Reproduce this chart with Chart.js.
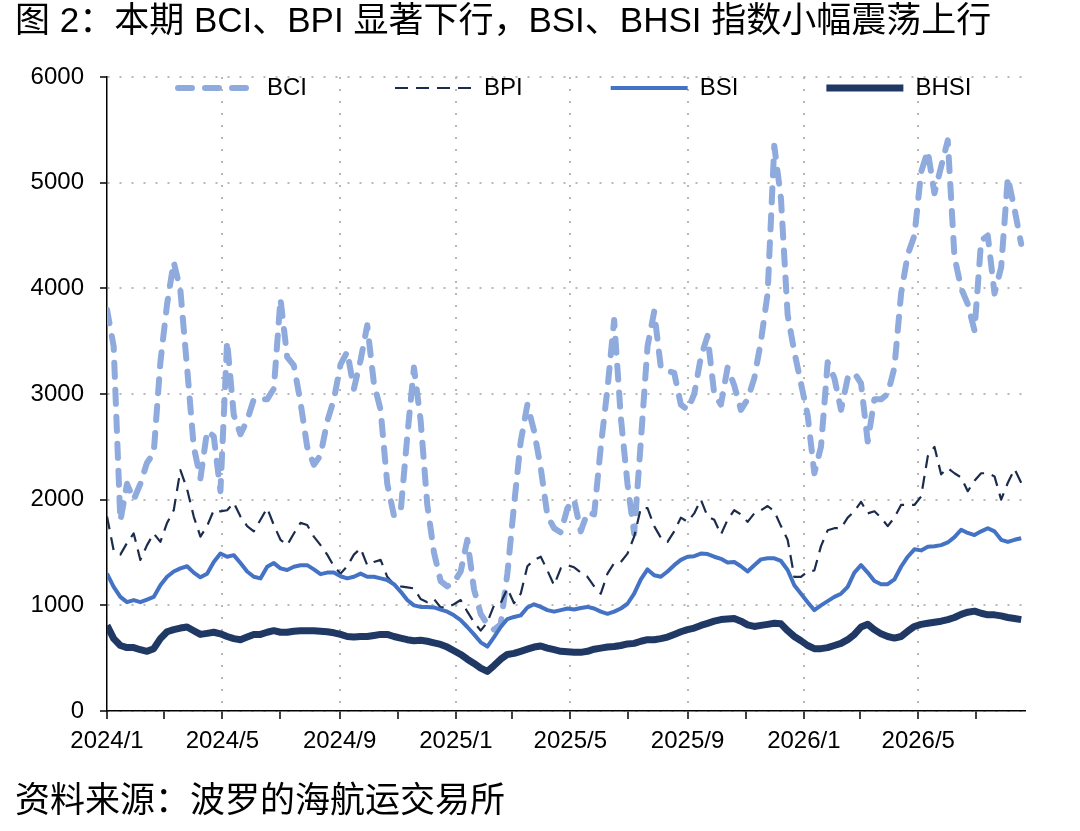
<!DOCTYPE html>
<html lang="zh-CN">
<head>
<meta charset="utf-8">
<title>BCI / BPI / BSI / BHSI</title>
<script src="https://cdn.jsdelivr.net/npm/chart.js@4.4.1/dist/chart.umd.min.js"></script>
<style>
  html, body { margin: 0; padding: 0; background: #fff; }
  #wrap { position: relative; width: 1080px; height: 831px; overflow: hidden; }
  #chart { position: absolute; left: 0; top: 0; }
  .caption {
    position: absolute; left: 15px; white-space: nowrap;
    font-family: "Liberation Sans", "Noto Sans CJK SC", sans-serif;
    font-size: 35px; line-height: 40px; color: #000;
  }
  #title { top: 0; }
  #source { top: 780px; }
</style>
</head>
<body>
<div id="wrap">
  <canvas id="chart" width="1080" height="831"></canvas>
  <div class="caption" id="title">图 2：本期 BCI、BPI 显著下行，BSI、BHSI 指数小幅震荡上行</div>
  <div class="caption" id="source">资料来源：波罗的海航运交易所</div>
</div>
<script>
// weekly readings from 2024/1 onwards
const weekStep = 7; // days between points
const seriesNames = ['BCI', 'BPI', 'BSI', 'BHSI'];
const tickLabels = ['2024/1', '2024/3', '2024/5', '2024/7', '2024/9', '2024/11',
                    '2025/1', '2025/3', '2025/5', '2025/7', '2025/9', '2025/11',
                    '2026/1', '2026/3', '2026/5', '2026/7'];

const bci = [
  3800, 3450, 1800, 2150, 2000, 2150, 2350, 2440, 3300, 3850,
  4250, 3980, 3250, 2500, 2200, 2650, 2600, 2080, 3500, 2800,
  2620, 2750, 2950, 2950, 2950, 3050, 3900, 3350, 3270, 2920,
  2500, 2330, 2420, 2740, 2950, 3280, 3400, 3050, 3320, 3650,
  3100, 2850, 2150, 1850, 1880, 2600, 3250, 2750, 1950, 1500,
  1230, 1180, 1220, 1320, 1620, 1150, 920, 820, 770, 820,
  1300, 1950, 2550, 2900, 2650, 2300, 1850, 1730, 1690, 1920,
  2000, 1700, 1880, 1860, 2500, 3050, 3700, 2780, 2150, 1680,
  2550, 3450, 3780, 3250, 3220, 3200, 2900, 2850, 3000, 3350,
  3550, 3000, 2900, 3250, 3080, 2850, 2950, 3150, 3500, 3950,
  5350, 4850, 3750, 3400, 3100, 2800, 2250, 2500, 3300, 3150,
  2850, 3150, 3200, 3100, 2550, 2950, 2950, 3000, 3250, 3950,
  4320, 4500, 5100, 5300, 4900, 5150, 5400, 4300, 4000, 3850,
  3600, 4450, 4500, 3950, 4200, 5050, 4750, 4420
];
const bpi = [
  1840, 1520, 1480, 1590, 1680, 1430, 1570, 1680, 1600, 1780,
  1900, 2280, 2100, 1840, 1650, 1750, 1900, 1890, 1900, 1970,
  1840, 1750, 1700, 1810, 1920, 1760, 1620, 1570, 1680, 1780,
  1760, 1650, 1570, 1480, 1370, 1300, 1370, 1480, 1540, 1380,
  1410, 1430, 1270, 1200, 1180, 1170, 1160, 1060, 1030, 1060,
  980, 980, 1010, 1050, 940, 840, 760, 840, 1000, 1020,
  1160, 1020, 1110, 1370, 1430, 1460, 1330, 1190, 1350, 1380,
  1360, 1310, 1270, 1180, 1110, 1300, 1400, 1410, 1490, 1650,
  1920, 1920, 1750, 1640, 1600, 1700, 1830, 1790, 1870, 2000,
  1840, 1810, 1670, 1810, 1900, 1860, 1790, 1870, 1900, 1940,
  1890, 1750, 1620, 1270, 1270, 1320, 1330, 1560, 1710, 1730,
  1730, 1830, 1890, 1980, 1870, 1890, 1830, 1750, 1830, 1950,
  1950, 1950, 2030, 2410, 2500, 2240, 2300, 2250, 2210, 2080,
  2180, 2250, 2250, 2220, 2000, 2160, 2290, 2160
];
const bsi = [
  1300, 1175, 1080, 1030, 1050, 1030, 1055, 1080, 1190, 1270,
  1320, 1350, 1370, 1310, 1265, 1300, 1410, 1490, 1460, 1475,
  1400, 1320, 1270, 1255, 1365, 1400, 1350, 1335, 1365, 1380,
  1380, 1340, 1295, 1310, 1310, 1275, 1255, 1270, 1300, 1270,
  1270, 1255, 1240, 1200, 1130, 1050, 1000, 985, 985, 980,
  960, 940, 905, 860, 795, 725, 650, 610, 700, 795,
  870, 890, 905, 980, 1010, 985, 955, 940, 955, 970,
  960, 975, 985, 970, 940, 920, 940, 970, 1015, 1110,
  1245, 1340, 1285, 1270, 1320, 1380, 1430, 1460, 1465, 1490,
  1485, 1460, 1440, 1405, 1410, 1370, 1320, 1380, 1435, 1445,
  1445, 1420, 1335, 1190, 1110, 1030, 955, 1000, 1040, 1080,
  1110, 1175, 1310, 1380, 1310, 1230, 1200, 1200, 1245, 1365,
  1460, 1530, 1520, 1555, 1560, 1570, 1595, 1645, 1715, 1685,
  1665, 1700, 1730, 1700, 1620, 1600, 1620, 1635
];
const bhsi = [
  810, 685, 620, 600, 600, 580, 565, 590, 685, 750,
  770, 785, 795, 760, 725, 735, 745, 730, 705, 685,
  675, 700, 725, 725, 745, 760, 745, 745, 755, 760,
  760, 760, 755, 750, 740, 725, 705, 700, 705, 705,
  715, 725, 725, 705, 690, 675, 665, 670, 660, 645,
  630, 605, 570, 535, 490, 450, 405, 375, 430, 490,
  535, 545, 565, 585, 605, 615, 595, 580, 565, 560,
  555, 555, 565, 585, 595, 605, 610, 620, 635, 640,
  660, 675, 675, 685, 700, 725, 750, 770, 785, 810,
  830, 850, 865, 870, 875, 850, 815, 800, 810, 820,
  830, 825, 760, 705, 665, 620, 590, 590, 600, 620,
  640, 675, 725, 795, 820, 770, 730, 705, 690, 705,
  755, 800, 820, 830, 840, 850, 865, 885, 915, 935,
  945, 925, 910, 910, 900, 885, 875, 865
];

const dayOf = s => {
  const [y, m] = s.split('/').map(Number);
  return (Date.UTC(y, m - 1, 1) - Date.UTC(2024, 0, 1)) / 864e5;
};
const tickDays = tickLabels.map(dayOf);
const labelDays = tickDays.filter((_, i) => i % 2 === 0);
const days = bci.map((_, i) => i * weekStep);
const toPoints = vals => vals.map((v, i) => ({ x: days[i], y: v }));

const gridGray = '#b8b8b8';
const gridDash = [2, 10];
const tickFont = { family: "'Liberation Sans', Arial, sans-serif", size: 24 };

// move the legend down into the top of the plot, like the original
const legendInPlot = {
  id: 'legendInPlot',
  afterLayout(chart) {
    const lg = chart.legend;
    const pad = lg.options.labels.padding;
    lg.left = 178 - pad;
    lg.right = 1120;
    lg.top = chart.chartArea.top + 11 - pad - 12;
    lg.bottom = lg.top + 200;
  }
};

// legend swatches take the dataset line style (dash, width, cap)
const legendLabels = chart =>
  Chart.defaults.plugins.legend.labels.generateLabels(chart).map(item => {
    const ds = chart.data.datasets[item.datasetIndex];
    item.lineDash = ds.borderDash || [];
    item.lineWidth = ds.borderWidth;
    item.lineCap = ds.borderCapStyle || 'butt';
    item.strokeStyle = ds.borderColor;
    item.pointStyle = 'line';
    return item;
  });

new Chart(document.getElementById('chart'), {
  type: 'line',
  data: {
    datasets: [
      {
        label: seriesNames[0],
        data: toPoints(bci),
        borderColor: '#8faadc',
        backgroundColor: '#8faadc',
        borderWidth: 6,
        borderDash: [14, 13],
        borderCapStyle: 'round',
        order: 3
      },
      {
        label: seriesNames[1],
        data: toPoints(bpi),
        borderColor: '#1c2c4c',
        backgroundColor: '#1c2c4c',
        borderWidth: 2.2,
        borderDash: [13, 8],
        order: 2
      },
      {
        label: seriesNames[2],
        data: toPoints(bsi),
        borderColor: '#4472c4',
        backgroundColor: '#4472c4',
        borderWidth: 4,
        order: 1
      },
      {
        label: seriesNames[3],
        data: toPoints(bhsi),
        borderColor: '#1f3864',
        backgroundColor: '#1f3864',
        borderWidth: 7,
        order: 0
      }
    ]
  },
  options: {
    responsive: false,
    animation: false,
    events: [],
    layout: { padding: { left: 0, top: 76, right: 55, bottom: 60 } },
    elements: {
      point: { radius: 0 },
      line: { tension: 0, borderJoinStyle: 'round' }
    },
    plugins: {
      tooltip: { enabled: false },
      legend: {
        position: 'top',
        align: 'start',
        maxHeight: 1,
        labels: {
          usePointStyle: true,
          pointStyle: 'line',
          pointStyleWidth: 77,
          padding: 88,
          color: '#000',
          font: tickFont,
          generateLabels: legendLabels,
          sort: (a, b) => a.datasetIndex - b.datasetIndex
        }
      }
    },
    scales: {
      x: {
        type: 'linear',
        min: 0,
        max: 963,
        afterBuildTicks: axis => { axis.ticks = tickDays.map(v => ({ value: v })); },
        afterFit: axis => { axis.height = 60; },
        ticks: {
          autoSkip: false,
          maxRotation: 0,
          padding: 8,
          color: '#000',
          font: tickFont,
          callback: (v, i) => (i % 2 === 0 ? tickLabels[i] : '')
        },
        grid: {
          color: c => (c.tick && c.tick.value > 0 && labelDays.includes(c.tick.value)) ? gridGray : 'rgba(0,0,0,0)',
          lineWidth: 2,
          tickLength: 8,
          tickColor: '#000',
          tickWidth: 1.5
        },
        border: { color: '#000', width: 1.5, dash: gridDash }
      },
      y: {
        min: 0,
        max: 6000,
        afterFit: axis => { axis.width = 107; },
        ticks: {
          stepSize: 1000,
          padding: 16,
          color: '#000',
          font: tickFont,
          callback: v => String(v)
        },
        grid: {
          color: gridGray,
          lineWidth: 2,
          tickLength: 7,
          tickColor: '#000',
          tickWidth: 1.5
        },
        border: { color: '#000', width: 1.5, dash: gridDash }
      }
    }
  },
  plugins: [legendInPlot]
});
</script>
</body>
</html>
